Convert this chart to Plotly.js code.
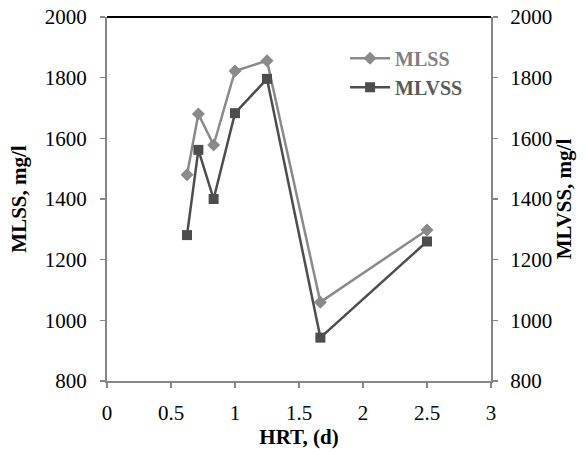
<!DOCTYPE html>
<html>
<head>
<meta charset="utf-8">
<script src="https://cdn.plot.ly/plotly-3.0.1.min.js"></script>
<style>html,body{margin:0;padding:0;background:#fff;}#chart{width:587px;height:452px;}</style>
</head>
<body>
<div id="chart"></div>
<script>
var hrt = [0.625, 0.714, 0.833, 1.0, 1.25, 1.667, 2.5];
var mlss = [1480, 1680, 1578, 1822, 1856, 1060, 1298];
var mlvss = [1281, 1562, 1400, 1683, 1796, 943, 1260];
var xTicks = [0, 0.5, 1, 1.5, 2, 2.5, 3];
var yTicks = [800, 1000, 1200, 1400, 1600, 1800, 2000];

var fontFam = 'Liberation Serif';
var axisCol = '#868686';
var fs = 21;

var traces = [
  {x: hrt, y: mlss, name: '<b><span style="color:#7f7f7f">MLSS</span></b>', type: 'scatter', mode: 'lines+markers',
   line: {color: '#8a8a8a', width: 2.5}, marker: {symbol: 'diamond', size: 10, color: '#8a8a8a'}, yaxis: 'y'},
  {x: hrt, y: mlvss, name: '<b><span style="color:#595959">MLVSS</span></b>', type: 'scatter', mode: 'lines+markers',
   line: {color: '#4d4d4d', width: 2.5}, marker: {symbol: 'square', size: 10, color: '#4d4d4d'}, yaxis: 'y2'}
];

var layout = {
  width: 587, height: 452,
  margin: {l: 107, r: 96, t: 17, b: 71},
  paper_bgcolor: '#fff', plot_bgcolor: '#fff',
  font: {family: fontFam, size: fs, color: '#000'},
  showlegend: true,
  legend: {x: 0.62, y: 0.94, xanchor: 'left', yanchor: 'top', bgcolor: 'rgba(0,0,0,0)',
           font: {family: fontFam, size: 20}, itemwidth: 40},
  xaxis: {range: [0, 3], tickvals: xTicks, ticktext: xTicks.map(String), showgrid: false, zeroline: false,
          showline: true, linecolor: axisCol, linewidth: 2, ticks: 'outside', ticklen: 5, tickcolor: axisCol, tickwidth: 1.5,
          tickfont: {family: fontFam, size: fs}, ticklabelstandoff: 7,
          title: {text: '<b>HRT, (d)</b>', font: {family: fontFam, size: fs}, standoff: 4}},
  yaxis: {range: [800, 2000], tickvals: yTicks, ticktext: yTicks.map(String), showgrid: false, zeroline: false,
          showline: true, linecolor: axisCol, linewidth: 2, ticks: 'outside', ticklen: 5, tickcolor: axisCol, tickwidth: 1.5,
          tickfont: {family: fontFam, size: fs}, ticklabelstandoff: 9,
          title: {text: '<b>MLSS, mg/l</b>', font: {family: fontFam, size: fs}, standoff: 12}},
  yaxis2: {range: [800, 2000], tickvals: yTicks, ticktext: yTicks.map(String), overlaying: 'y', side: 'right',
           showgrid: false, zeroline: false, showline: true, linecolor: axisCol, linewidth: 2,
           ticks: 'outside', ticklen: 5, tickcolor: axisCol, tickwidth: 1.5,
           tickfont: {family: fontFam, size: fs}, ticklabelstandoff: 8,
           title: {text: '<b>MLVSS, mg/l</b>', font: {family: fontFam, size: fs}, standoff: 5}},
  shapes: [{type: 'line', xref: 'paper', yref: 'paper', x0: 0, x1: 1, y0: 1, y1: 1, line: {color: '#000', width: 2}}]
};

Plotly.newPlot('chart', traces, layout, {displayModeBar: false, staticPlot: true});
</script>
</body>
</html>
